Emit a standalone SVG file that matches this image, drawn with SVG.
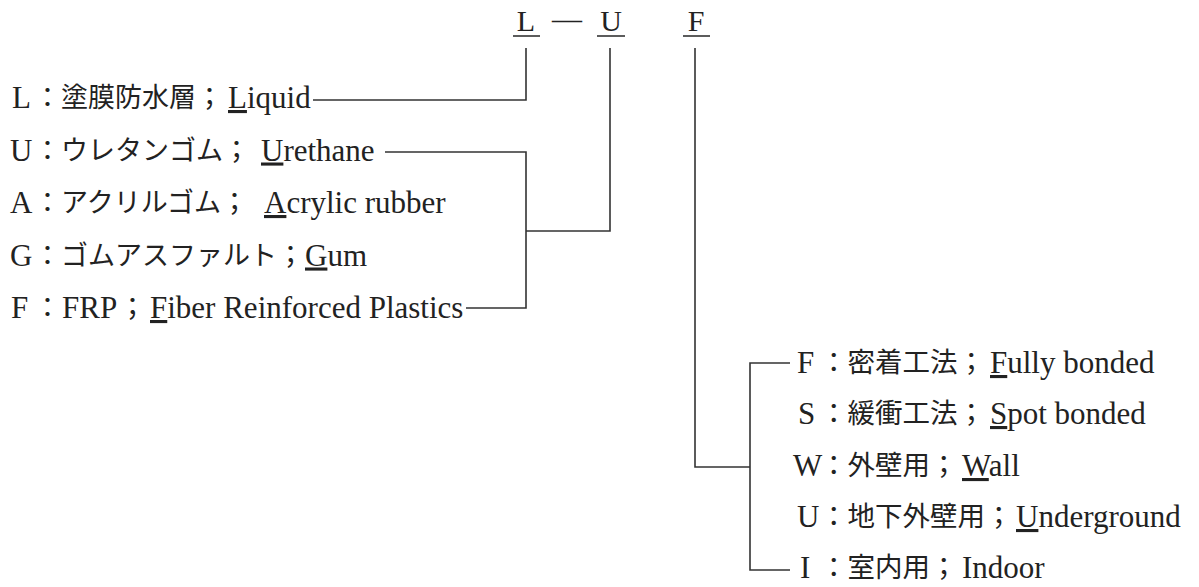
<svg xmlns="http://www.w3.org/2000/svg" width="1199" height="587" viewBox="0 0 1199 587">
<style>
.t{font-family:"Liberation Serif","Noto Sans CJK JP",serif;font-size:31px;fill:#222}
.h{font-family:"Liberation Serif","Noto Sans CJK JP",serif;font-size:30px;fill:#222}
.j{font-family:"Noto Sans CJK JP",sans-serif;font-size:27px;fill:#222}
.jr{font-family:"Noto Sans CJK JP",sans-serif;font-size:27.5px;fill:#222}
.ln{stroke:#333;stroke-width:1.6;fill:none}
.ul{stroke:#333;stroke-width:1.6}
</style>
<rect width="1199" height="587" fill="#fff"/>
<g id="header">
<text class="h" x="526" y="31" text-anchor="middle">L</text>
<text class="h" x="567" y="29" text-anchor="middle">—</text>
<text class="h" x="611" y="31" text-anchor="middle">U</text>
<text class="h" x="696" y="31" text-anchor="middle">F</text>
<line class="ul" x1="513" y1="36" x2="540" y2="36"/>
<line class="ul" x1="597" y1="36" x2="625" y2="36"/>
<line class="ul" x1="683" y1="36" x2="710" y2="36"/>
</g>
<g id="row-L">
<text class="t" x="12" y="108">L</text><text class="j" x="34" y="107">：塗膜防水層；</text><text class="t" x="228" y="108"><tspan text-decoration="underline">L</tspan>iquid</text>
</g>
<g id="row-U">
<text class="t" x="10" y="160.5">U</text><text class="j" x="34" y="159.5">：ウレタンゴム；</text><text class="t" x="261" y="160.5"><tspan text-decoration="underline">U</tspan>rethane</text>
</g>
<g id="row-A">
<text class="t" x="10" y="213">A</text><text class="j" x="34" y="212">：アクリルゴム；</text><text class="t" x="264" y="213"><tspan text-decoration="underline">A</tspan>crylic rubber</text>
</g>
<g id="row-G">
<text class="t" x="10" y="265.5">G</text><text class="j" x="34" y="264.5">：ゴムアスファルト；</text><text class="t" x="305" y="265.5"><tspan text-decoration="underline">G</tspan>um</text>
</g>
<g id="row-F">
<text class="t" x="11" y="318">F</text><text class="j" x="34" y="317">：</text><text class="t" x="62" y="318">FRP</text><text class="j" x="119" y="317">；</text><text class="t" x="150" y="318"><tspan text-decoration="underline">F</tspan>iber Reinforced Plastics</text>
</g>
<g id="row-F2">
<text class="t" x="797" y="373">F</text><text class="jr" x="820" y="372">：密着工法；</text><text class="t" x="990" y="373"><tspan text-decoration="underline">F</tspan>ully bonded</text>
</g>
<g id="row-S">
<text class="t" x="798" y="424">S</text><text class="jr" x="820" y="423">：緩衝工法；</text><text class="t" x="990" y="424"><tspan text-decoration="underline">S</tspan>pot bonded</text>
</g>
<g id="row-W">
<text class="t" x="793" y="476">W</text><text class="jr" x="820" y="475">：外壁用；</text><text class="t" x="962" y="476"><tspan text-decoration="underline">W</tspan>all</text>
</g>
<g id="row-U2">
<text class="t" x="797" y="527">U</text><text class="jr" x="820" y="526">：地下外壁用；</text><text class="t" x="1016" y="527"><tspan text-decoration="underline">U</tspan>nderground</text>
</g>
<g id="row-I">
<text class="t" x="800" y="578">I</text><text class="jr" x="820" y="577">：室内用；</text><text class="t" x="962" y="578">Indoor</text>
</g>
<g id="connectors">
<path class="ln" d="M526,48 V100 H313"/>
<path class="ln" d="M610,48 V231 H526"/>
<path class="ln" d="M385,152 H526 V308 H466"/>
<path class="ln" d="M695,48 V467 H750"/>
<path class="ln" d="M790,363 H750 V570 H790"/>
</g>
</svg>
